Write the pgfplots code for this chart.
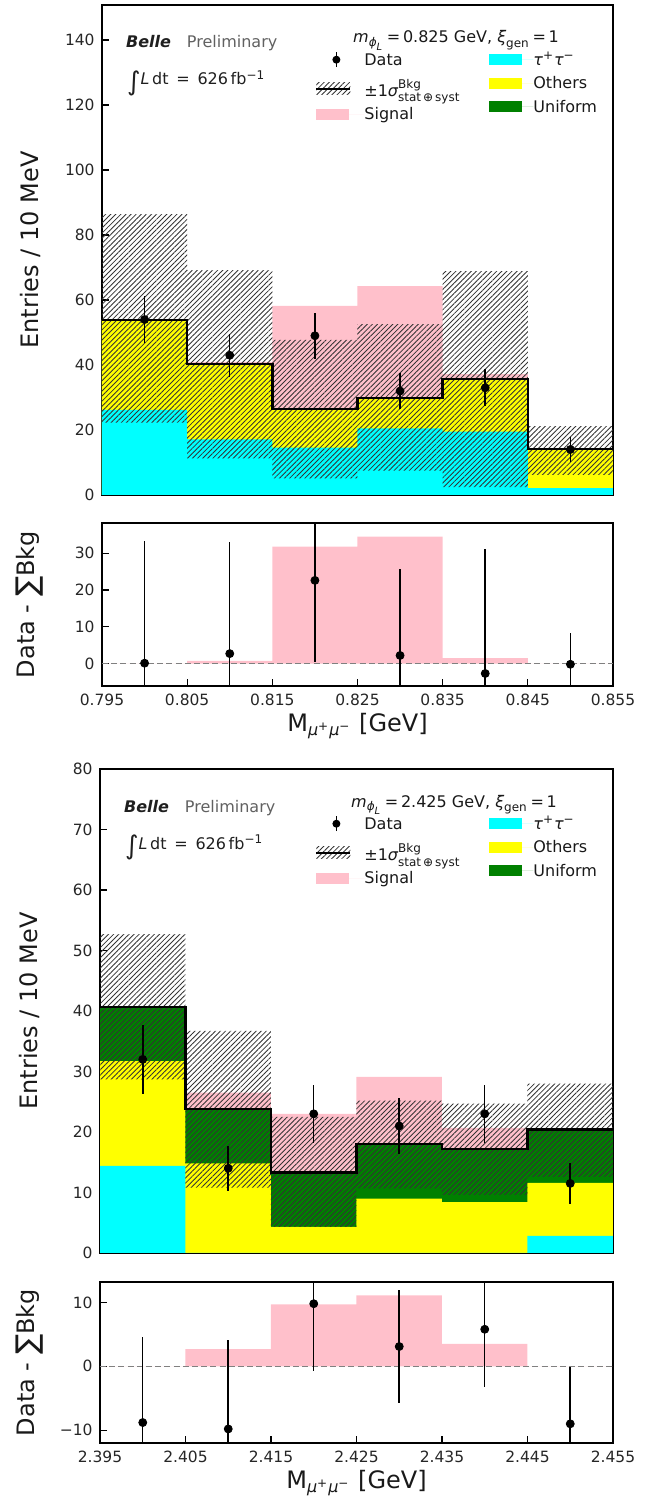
\documentclass[border=0pt]{standalone}
\usepackage{fontspec}
\setmainfont{DejaVu Sans}
\usepackage{amsmath}
\usepackage{pgfplots}
\pgfplotsset{compat=1.18}
\usepackage{pgfplotstable}
\usetikzlibrary{patterns.meta}

\definecolor{tautau}{HTML}{00FFFF}
\definecolor{others}{HTML}{FFFF00}
\definecolor{uniform}{HTML}{008000}
\definecolor{signal}{HTML}{FFC0CB}
\definecolor{zeroline}{HTML}{808080}

\newcommand{\tickfont}{\fontsize{7.75}{9}\selectfont}
\newcommand{\txtfont}{\fontsize{8}{9.6}\selectfont}
\newcommand{\labfont}{\fontsize{12}{14}\selectfont}
% struts that fix the legend row heights
\newcommand{\lstrut}{\rule[-2pt]{0pt}{9pt}}
\newcommand{\sstrut}{\rule[-4.25pt]{0pt}{15pt}}

% Bin tables: lower bin edge (last row closes the final bin), cumulative stack
% tops (tau = tau+tau-, oth = + others, tot = + uniform, sig = + signal)
% and the signal in the residual panel.
\pgfplotstableread{
lo     tau   oth   tot   sig   rsig
0.795  26.2  53.9  53.9  53.9  0.0
0.805  17.1  40.3  40.3  41.0  0.7
0.815  14.6  26.4  26.4  58.2  31.8
0.825  20.5  29.8  29.8  64.3  34.5
0.835  19.5  35.7  35.7  37.2  1.5
0.845   2.1  14.2  14.2  14.2  0.0
0.855   2.1  14.2  14.2  14.2  0.0
}\binsA
% outline of the +-1 sigma background band: upper edge, then lower edge back
\pgfplotstableread{
x      y
0.795  86.4
0.805  86.4
0.805  69.2
0.815  69.2
0.815  47.7
0.825  47.7
0.825  52.6
0.835  52.6
0.835  68.9
0.845  68.9
0.845  21.2
0.855  21.2
0.855   6.2
0.845   6.2
0.845   2.4
0.835   2.4
0.835   7.5
0.825   7.5
0.825   5.1
0.815   5.1
0.815  11.3
0.805  11.3
0.805  22.3
0.795  22.3
}\bandA
% Data: bin centre, entries, error, data minus background, its error
\pgfplotstableread{
c      d     e     r     re
0.800  54    7.35  0.1   33.1
0.810  43    6.56  2.7   30.2
0.820  49    7.00  22.6  22.3
0.830  32    5.66  2.2   23.4
0.840  33    5.74  -2.7  33.9
0.850  14    3.74  -0.2  8.5
}\dataA

\pgfplotstableread{
lo     tau   oth   tot   sig   rsig
2.395  14.4  31.7  40.7  40.7  0.0
2.405   0.0  14.8  23.8  26.5  2.7
2.415   0.0   4.3  13.3  23.0  9.7
2.425   0.0   9.0  18.0  29.1  11.1
2.435   0.0   8.4  17.2  20.7  3.5
2.445   2.85 11.6  20.4  20.4  0.0
2.455   2.85 11.6  20.4  20.4  0.0
}\binsB
\pgfplotstableread{
x      y
2.395  52.7
2.405  52.7
2.405  36.7
2.415  36.7
2.415  22.5
2.425  22.5
2.425  25.2
2.435  25.2
2.435  24.7
2.445  24.7
2.445  28.0
2.455  28.0
2.455  12.6
2.445  12.6
2.445   9.6
2.435   9.6
2.435  10.7
2.425  10.7
2.425   4.3
2.415   4.3
2.415  10.8
2.405  10.8
2.405  28.7
2.395  28.7
}\bandB
\pgfplotstableread{
c      d     e     r     re
2.400  32    5.66  -8.8  13.4
2.410  14    3.74  -9.8  13.9
2.420  23    4.80   9.8  10.6
2.430  21    4.58   3.1   8.9
2.440  23    4.80   5.8   9.1
2.450  11.5  3.39  -9.0   8.9
}\dataB

\tikzset{bkghatch/.style={draw=none,
  pattern={Lines[angle=45,distance=1.8pt,line width=0.42pt]}, pattern color=black!80}}

\pgfplotsset{
  hep/.style={
    scale only axis, anchor=south west,
    axis line style={line width=0.6pt, black},
    every tick/.style={black, line width=0.6pt},
    tick align=inside, major tick length=3.5pt, tick pos=left,
    /pgf/number format/assume math mode=true,
    tick label style={font=\tickfont, black!85},
    yticklabel style={inner sep=0pt, xshift=-3.5pt},
    xticklabel style={inner sep=0pt, yshift=-3.8pt},
    label style={font=\labfont, black!90},
  },
  datapts/.style={only marks, mark=*, mark size=2pt, black,
    mark options={solid, fill=black},
    error bars/y dir=both, error bars/y explicit, error bars/error mark=none,
    error bars/error bar style={line width=0.75pt, black}},
  leg/.style={legend cell align=left,
    legend style={draw=none, fill=none, at={(rel axis cs:0,1)}, anchor=north west,
      xshift=#1, yshift=-22.9pt, inner sep=0pt, row sep=3.25pt,
      nodes={inner sep=0pt, font=\txtfont, black!90}, cells={anchor=west}}},
  patchleg/.style={legend image code/.code={
    \fill[##1, draw=none] (0pt,-2.8pt) rectangle (16.5pt,2.8pt);
    \path[draw=none] (0pt,0pt) -- (#1,0pt);}},
}

% the main stacked histogram of one mass point
\newcommand{\stack}[3]{%
  \addplot[const plot, fill=signal, draw=none, forget plot] table[x=lo,y=sig]{#1} \closedcycle;
  \addplot[const plot, fill=uniform, draw=none, forget plot] table[x=lo,y=tot]{#1} \closedcycle;
  \addplot[const plot, fill=others, draw=none, forget plot] table[x=lo,y=oth]{#1} \closedcycle;
  \addplot[const plot, fill=tautau, draw=none, forget plot] table[x=lo,y=tau]{#1} \closedcycle;
  \addplot[bkghatch, forget plot] table[x=x,y=y]{#2} -- cycle;
  \addplot[const plot, black, line width=1.25pt, forget plot] table[x=lo,y=tot]{#1};
  \addplot[forget plot, datapts] table[x=c,y=d,y error=e]{#3};
}
% residual panel
\newcommand{\resid}[4]{%
  \addplot[const plot, fill=signal, draw=none, forget plot] table[x=lo,y=rsig]{#1} \closedcycle;
  \addplot[zeroline, line width=0.6pt, dash pattern=on 3pt off 1.6pt, forget plot] coordinates {(#3,0) (#4,0)};
  \addplot[forget plot, datapts] table[x=c,y=r,y error=re]{#2};
}
% text block in the upper left and the left legend column
\newcommand{\annot}[1]{%
  \node[anchor=base west, font=\txtfont, xshift=8.5pt, yshift=-21.5pt] at (rel axis cs:0,1)
    {\textcolor{black!88}{\textbf{\textit{Belle}}}\hspace{8pt}\textcolor{black!62}{Preliminary}};
  \node[anchor=base west, font=\txtfont, black!88, xshift=9pt, yshift=-40pt] at (rel axis cs:0,1)
    {\raisebox{-2.6pt}{\fontsize{13}{13}\selectfont ∫}\textit{L}\,dt\, = \,626\,fb\textsuperscript{−1}};
  \node[anchor=base, font=\txtfont, black!90, xshift=177pt, yshift=-19pt] at (rel axis cs:0,1)
    {$\text{\itshape m}_{\text{\itshape ϕ}_{\text{\itshape L}}}\text{\,=\,#1 GeV, }\text{\itshape ξ}_{\text{gen}}\text{\,=\,1}$};
  \addlegendimage{legend image code/.code={
    \draw[black, line width=0.75pt] (10pt,-3.75pt) -- (10pt,3.75pt);
    \fill[black, draw=none] (10pt,0pt) circle[radius=2pt];
    \path[draw=none] (0pt,0pt) -- (24pt,0pt);}}
  \addlegendentry{Data\lstrut}
  \addlegendimage{legend image code/.code={
    \path[bkghatch] (0pt,-3.8pt) rectangle (17pt,2.2pt);
    \draw[black, line width=1pt] (0pt,-0.8pt) -- (17pt,-0.8pt);
    \path[draw=none] (0pt,0pt) -- (24pt,0pt);}}
  \addlegendentry{$\text{±1}\text{\itshape σ}^{\text{Bkg}}_{\text{stat\,⊕\,syst}}$\sstrut}
  \addlegendimage{patchleg=24pt, fill=signal}
  \addlegendentry{Signal\lstrut}
}
% right legend column, in an axis of its own
\newcommand{\rightleg}[3]{%
  \begin{axis}[scale only axis, anchor=south west, at={#1}, width=#2, height=#3,
    hide axis, xmin=0, xmax=1, ymin=0, ymax=1, leg=193.5pt]
    \addlegendimage{patchleg=22pt, fill=tautau}
    \addlegendentry{$\text{\itshape τ}^{\text{+}}\text{\itshape τ}^{\text{−}}$\lstrut}
    \addlegendimage{patchleg=22pt, fill=others}
    \addlegendentry{Others\lstrut}
    \addlegendimage{patchleg=22pt, fill=uniform}
    \addlegendentry{Uniform\lstrut}
  \end{axis}
}

\newcommand{\mlabel}{$\text{M}_{\text{\itshape μ}^{\text{+}}\text{\itshape μ}^{\text{−}}}$ [GeV]}
\newcommand{\rlabel}{Data - {\fontsize{15}{15}\selectfont\raisebox{-1.5pt}{∑}}Bkg}

\begin{document}
\begin{tikzpicture}

% ---------- m = 0.825 GeV ----------
\begin{axis}[hep, at={(51pt,503pt)}, width=255.5pt, height=245pt,
  xmin=0.795, xmax=0.855, ymin=0, ymax=150.8,
  xtick={0.795,0.805,0.815,0.825,0.835,0.845,0.855}, xticklabels={},
  ytick={0,20,40,60,80,100,120,140},
  ylabel={Entries / 10 MeV},
  ylabel style={at={(axis description cs:-0.1409,0.5)}, anchor=center},
  leg=106.5pt]
  \stack{\binsA}{\bandA}{\dataA}
  \annot{0.825}
\end{axis}
\rightleg{(51pt,503pt)}{255.5pt}{245pt}

\begin{axis}[hep, at={(51pt,407.5pt)}, width=255.5pt, height=81.5pt,
  xmin=0.795, xmax=0.855, ymin=-6.1, ymax=38.2,
  xtick={0.795,0.805,0.815,0.825,0.835,0.845,0.855},
  xticklabels={0.795,0.805,0.815,0.825,0.835,0.845,0.855},
  ytick={0,10,20,30},
  ylabel={\rlabel},
  ylabel style={at={(axis description cs:-0.1409,0.5)}, anchor=center},
  xlabel={\mlabel},
  xlabel style={at={(axis description cs:0.5,0)}, anchor=center, yshift=-20pt}]
  \resid{\binsA}{\dataA}{0.795}{0.855}
\end{axis}

% ---------- m = 2.425 GeV ----------
\begin{axis}[hep, at={(50pt,124pt)}, width=256.5pt, height=242pt,
  xmin=2.395, xmax=2.455, ymin=0, ymax=80,
  xtick={2.395,2.405,2.415,2.425,2.435,2.445,2.455}, xticklabels={},
  ytick={0,10,20,30,40,50,60,70,80},
  ylabel={Entries / 10 MeV},
  ylabel style={at={(axis description cs:-0.1365,0.5)}, anchor=center},
  leg=107.5pt]
  \stack{\binsB}{\bandB}{\dataB}
  \annot{2.425}
\end{axis}
\rightleg{(51pt,124pt)}{255.5pt}{242pt}

\begin{axis}[hep, at={(50pt,29pt)}, width=256.5pt, height=80.5pt,
  xmin=2.395, xmax=2.455, ymin=-12.0, ymax=13.2,
  xtick={2.395,2.405,2.415,2.425,2.435,2.445,2.455},
  xticklabels={2.395,2.405,2.415,2.425,2.435,2.445,2.455},
  ytick={-10,0,10}, yticklabels={−10,0,10},
  ylabel={\rlabel},
  ylabel style={at={(axis description cs:-0.1365,0.5)}, anchor=center},
  xlabel={\mlabel},
  xlabel style={at={(axis description cs:0.5,0)}, anchor=center, yshift=-20pt}]
  \resid{\binsB}{\dataB}{2.395}{2.455}
\end{axis}

% page frame
\pgfresetboundingbox
\path[use as bounding box] (0pt,0pt) rectangle (329pt,750.5pt);
\end{tikzpicture}
\end{document}
